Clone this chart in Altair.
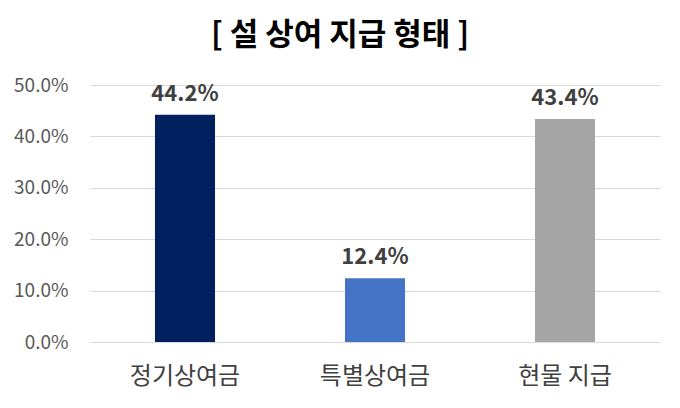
import altair as alt
import pandas as pd

categories = ["정기상여금", "특별상여금", "현물 지급"]
values = [44.2, 12.4, 43.4]
colors = ["#002060", "#4472C4", "#A5A5A5"]
labels = ["44.2%", "12.4%", "43.4%"]

df = pd.DataFrame({"cat": categories, "val": [v / 100 for v in values], "color": colors, "label": labels})

FONT = "Noto Sans CJK KR"

x = alt.X("cat:N", sort=categories, title=None,
          scale=alt.Scale(paddingInner=0.684, paddingOuter=0.342),
          axis=alt.Axis(labelAngle=0, labelFontSize=24, labelColor="#404040", labelFont=FONT,
                        labelPadding=22, ticks=False, domain=False))
y = alt.Y("val:Q", title=None,
          scale=alt.Scale(domain=[0, 0.5]),
          axis=alt.Axis(format=".1%", values=[0, 0.1, 0.2, 0.3, 0.4, 0.5], labelFontSize=19,
                        labelColor="#595959", labelFont=FONT, labelPadding=22, ticks=False,
                        domain=False, gridColor="#D9D9D9", gridWidth=1))

bars = alt.Chart(df).mark_bar().encode(
    x=x, y=y, color=alt.Color("color:N", scale=None)
)
text = alt.Chart(df).mark_text(baseline="bottom", dy=-9, fontSize=22, fontWeight="bold",
                               color="#404040", font=FONT).encode(
    x=alt.X("cat:N", sort=categories), y="val:Q", text="label:N"
)

chart = (bars + text).properties(
    width=570, height=257,
    title=alt.TitleParams("[ 설 상여 지급 형태 ]", fontSize=31, fontWeight="bold", font=FONT,
                          color="#000000", offset=24, dx=-35, anchor="middle"),
    autosize=alt.AutoSizeParams(type="none"),
    padding={"left": 82, "top": 77, "right": 12, "bottom": 57},
).configure_view(stroke=None)

chart.save("out.html", embed_options={"renderer": "svg", "actions": False})
